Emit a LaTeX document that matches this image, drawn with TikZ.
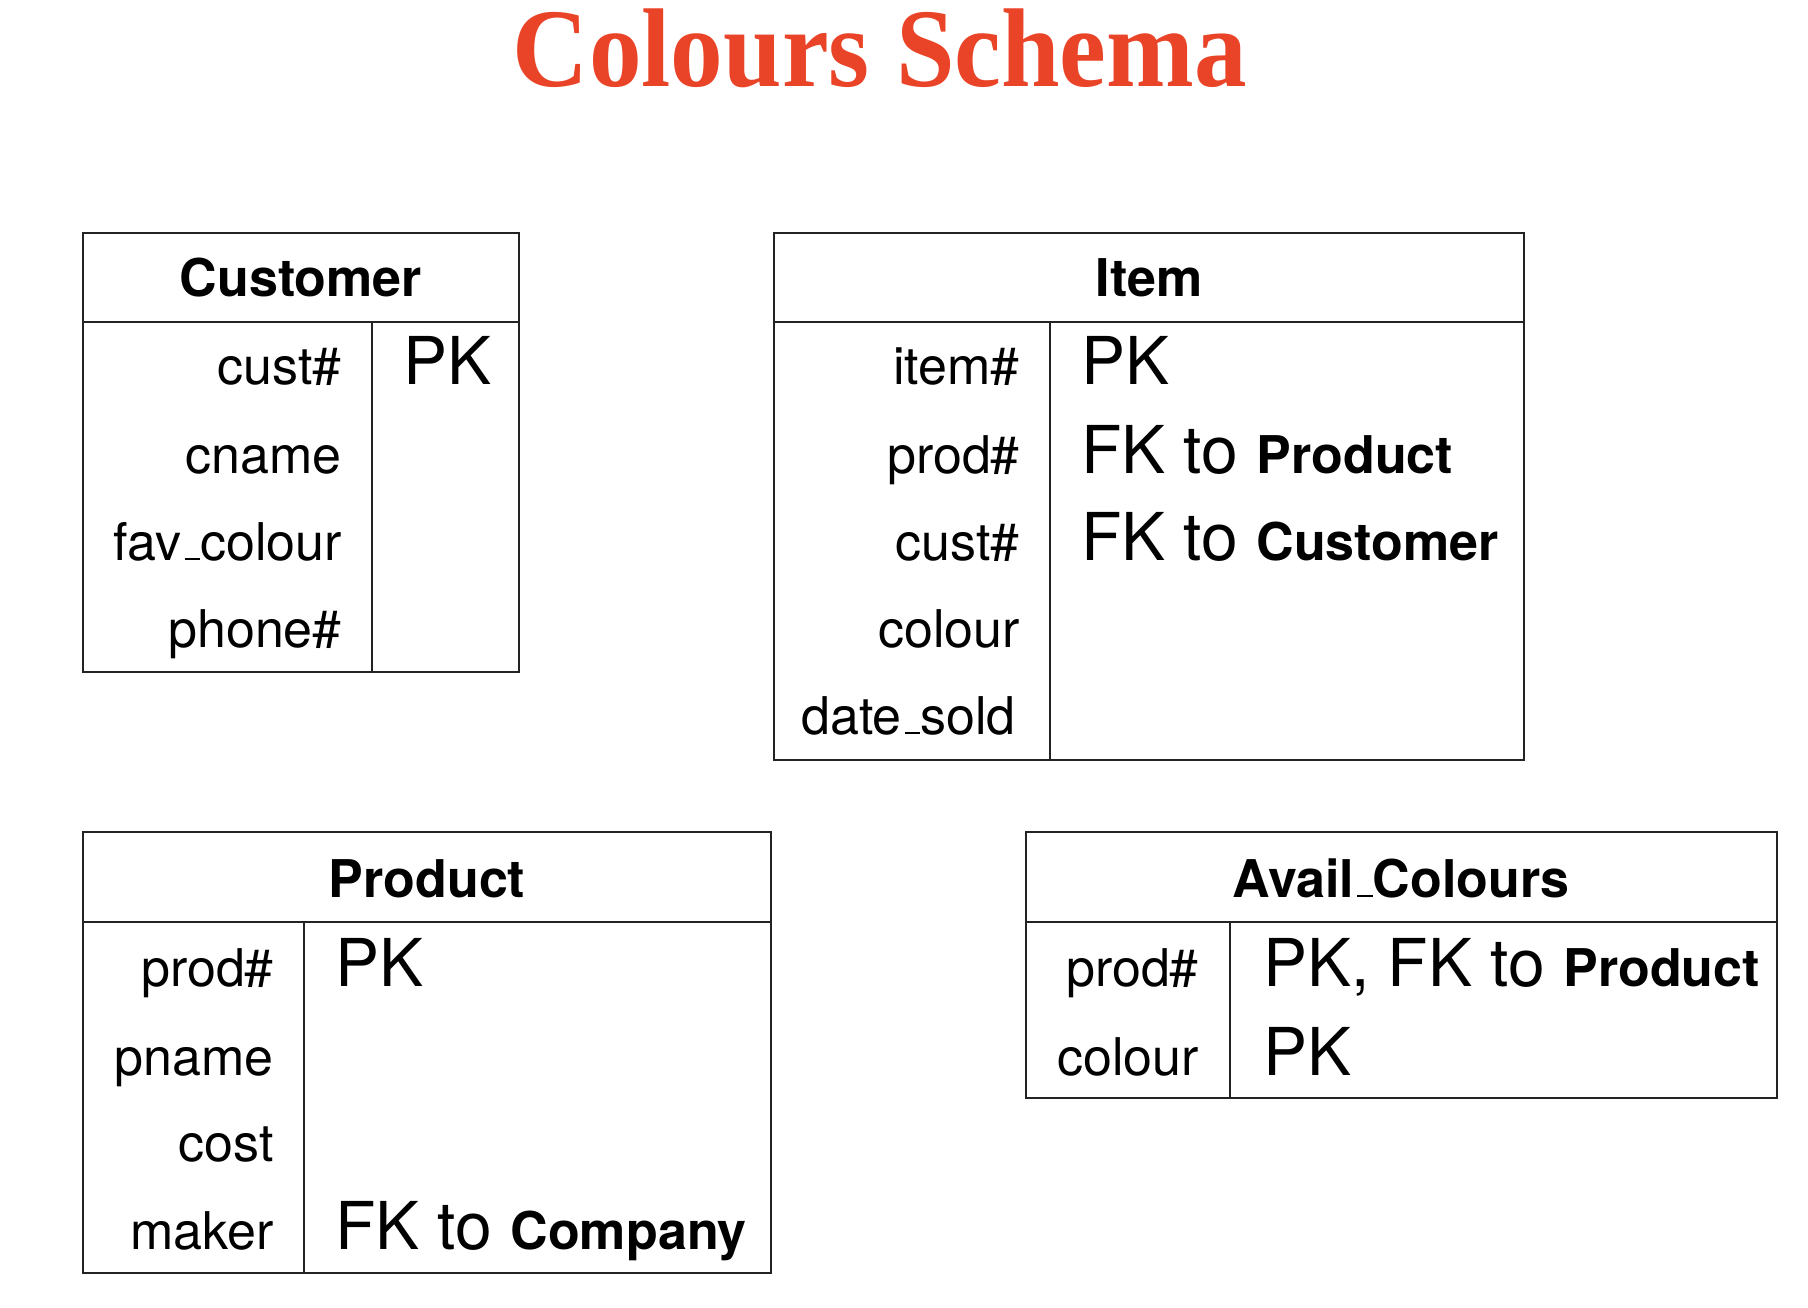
\documentclass[tikz,border=0pt]{standalone}
\usepackage{fontspec}
\setmainfont{TeX Gyre Heros}
\newfontfamily\titlefont{Liberation Serif}
\definecolor{titlered}{RGB}{234,68,40}
\definecolor{rulecol}{RGB}{35,35,35}
\newcommand\usc{\leavevmode\kern.06em\vbox{\hrule width .3em height .045em}}
\newcommand\rel[1]{{\fontsize{52}{60}\selectfont\bfseries #1}}
\tikzset{
 tbl/.style={draw=rulecol, line width=2pt},
 hdr/.style={font=\fontsize{52}{60}\selectfont\bfseries, anchor=base, inner sep=0pt},
 attr/.style={font=\fontsize{52}{64}\selectfont, anchor=base east, inner sep=0pt},
 keyt/.style={font=\fontsize{66}{80}\selectfont, anchor=base west, inner sep=0pt},
}
\begin{document}
\begin{tikzpicture}[x=1pt,y=-1pt]
\useasboundingbox (0,0) rectangle (1808,1308);
\node[anchor=base, inner sep=0pt, text=titlered, font=\fontsize{112}{130}\selectfont\titlefont\bfseries] (title) at (880,87) {\scalebox{0.94}[1]{Colours Schema}};

% Customer
\draw[tbl] (83,233) rectangle (519,672);
\draw[tbl] (83,322) -- (519,322);
\draw[tbl] (372,322) -- (372,672);
\node[hdr] (custH) at (301,296) {Customer};
\node[attr] (c1) at (342,384) {cust\#};
\node[attr] (c2) at (342,473) {cname};
\node[attr] (c3) at (342,560) {fav\usc colour};
\node[attr] (c4) at (342,647) {phone\#};
\node[keyt] (c1k) at (403,384) {PK};

% Item
\draw[tbl] (774,233) rectangle (1524,760);
\draw[tbl] (774,322) -- (1524,322);
\draw[tbl] (1050,322) -- (1050,760);
\node[hdr] (itemH) at (1149,296) {Item};
\node[attr] (i1) at (1020,384) {item\#};
\node[attr] (i2) at (1020,473) {prod\#};
\node[attr] (i3) at (1020,560) {cust\#};
\node[attr] (i4) at (1020,647) {colour};
\node[attr] (i5) at (1016,734) {date\usc sold};
\node[keyt] (i1k) at (1081,384) {PK};
\node[keyt] (i2k) at (1081,473) {FK to \rel{Product}};
\node[keyt] (i3k) at (1081,560) {FK to \rel{Customer}};

% Product
\draw[tbl] (83,832) rectangle (771,1273);
\draw[tbl] (83,922) -- (771,922);
\draw[tbl] (304,922) -- (304,1273);
\node[hdr] (prodH) at (427,897) {Product};
\node[attr] (p1) at (274,986) {prod\#};
\node[attr] (p2) at (274,1075) {pname};
\node[attr] (p3) at (274,1161) {cost};
\node[attr] (p4) at (274,1249) {maker};
\node[keyt] (p1k) at (335,986) {PK};
\node[keyt] (p4k) at (335,1249) {FK to \rel{Company}};

% Avail_Colours
\draw[tbl] (1026,832) rectangle (1777,1098);
\draw[tbl] (1026,922) -- (1777,922);
\draw[tbl] (1230,922) -- (1230,1098);
\node[hdr] (availH) at (1401,897) {Avail\usc Colours};
\node[attr] (a1) at (1199,986) {prod\#};
\node[attr] (a2) at (1199,1075) {colour};
\node[keyt] (a1k) at (1263,986) {PK, FK to \rel{Product}};
\node[keyt] (a2k) at (1263,1075) {PK};
\end{tikzpicture}
\end{document}
